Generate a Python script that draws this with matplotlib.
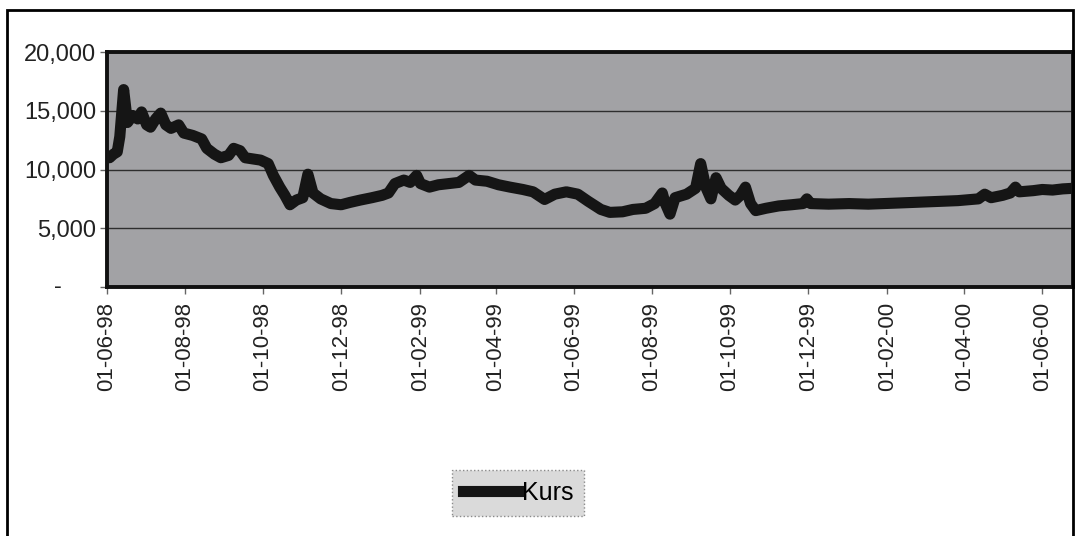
import numpy as np
import pandas as pd
import matplotlib
matplotlib.use('Agg')
import matplotlib.pyplot as plt
import matplotlib.dates as mdates
import matplotlib.transforms as mtransforms
from matplotlib.patches import Rectangle

plt.rcParams['font.family'] = ['Liberation Sans', 'DejaVu Sans']

# exchange rate readings, mid-1998 to mid-2000
dates = ['1998-06-01', '1998-06-03', '1998-06-06', '1998-06-09', '1998-06-11',
         '1998-06-14', '1998-06-17', '1998-06-21', '1998-06-25', '1998-06-28',
         '1998-07-02', '1998-07-05', '1998-07-09', '1998-07-13', '1998-07-17',
         '1998-07-21', '1998-07-27', '1998-07-31', '1998-08-07', '1998-08-14',
         '1998-08-18', '1998-08-24', '1998-08-29', '1998-09-04', '1998-09-08',
         '1998-09-13', '1998-09-17', '1998-09-23', '1998-09-29', '1998-10-05',
         '1998-10-09', '1998-10-14', '1998-10-18', '1998-10-22', '1998-10-27',
         '1998-11-01', '1998-11-05', '1998-11-09', '1998-11-15', '1998-11-23',
         '1998-12-01', '1998-12-08', '1998-12-16', '1998-12-25', '1999-01-02',
         '1999-01-07', '1999-01-12', '1999-01-19', '1999-01-24', '1999-01-29',
         '1999-02-01', '1999-02-08', '1999-02-15', '1999-02-23', '1999-03-03',
         '1999-03-11', '1999-03-16', '1999-03-25', '1999-04-03', '1999-04-12',
         '1999-04-22', '1999-04-30', '1999-05-09', '1999-05-17', '1999-05-26',
         '1999-06-04', '1999-06-12', '1999-06-22', '1999-06-29', '1999-07-09',
         '1999-07-17', '1999-07-27', '1999-08-03', '1999-08-09', '1999-08-11',
         '1999-08-15', '1999-08-19', '1999-08-28', '1999-09-04', '1999-09-08',
         '1999-09-12', '1999-09-16', '1999-09-20', '1999-09-24', '1999-09-30',
         '1999-10-05', '1999-10-09', '1999-10-13', '1999-10-17', '1999-10-21',
         '1999-10-29', '1999-11-08', '1999-11-18', '1999-11-27', '1999-11-30',
         '1999-12-03', '1999-12-17', '2000-01-02', '2000-01-17', '2000-02-10',
         '2000-03-04', '2000-03-27', '2000-04-12', '2000-04-17', '2000-04-22',
         '2000-05-01', '2000-05-07', '2000-05-11', '2000-05-14', '2000-05-25',
         '2000-06-01', '2000-06-09', '2000-06-17', '2000-06-25']
kurs = [11100, 11000, 11300, 11500, 12800,
        16800, 14000, 14600, 14300, 14900,
        13800, 13600, 14300, 14800, 13800,
        13500, 13800, 13100, 12900, 12600,
        11800, 11300, 11000, 11200, 11800,
        11600, 11000, 10900, 10800, 10500,
        9500, 8500, 7800, 7000, 7400,
        7600, 9600, 8000, 7500, 7100,
        7000, 7200, 7400, 7600, 7800,
        8000, 8800, 9100, 8900, 9500,
        8800, 8500, 8700, 8800, 8900,
        9500, 9100, 9000, 8700, 8500,
        8300, 8100, 7450, 7900, 8100,
        7900, 7300, 6600, 6350, 6400,
        6600, 6700, 7100, 8000, 7200,
        6200, 7600, 7900, 8400, 10500,
        8500, 7500, 9300, 8400, 7800,
        7400, 7800, 8500, 7100, 6500,
        6700, 6900, 7000, 7100, 7500,
        7100, 7050, 7100, 7050, 7150,
        7250, 7350, 7500, 7900, 7600,
        7800, 8000, 8500, 8100, 8200,
        8300, 8250, 8350, 8400]
y_ticks = [0, 5000, 10000, 15000, 20000]

x = pd.to_datetime(dates)

fig = plt.figure(figsize=(10.78, 5.36), dpi=100)
ax = fig.add_axes([107 / 1078, 1 - 287 / 536, 966 / 1078, 235 / 536])
ax.set_facecolor('#a2a2a5')

ax.plot(x, kurs, color='#151515', linewidth=8, solid_joinstyle='round',
        label='Kurs', zorder=3)

ax.set_xlim(x[0], x[-1])
ax.set_ylim(0, 20000)
ax.set_yticks(y_ticks)
ax.set_yticklabels(['' if v == 0 else f'{v:,}' for v in y_ticks])
ax.yaxis.grid(True, color='#2e2e2e', linewidth=1)
ax.set_axisbelow(True)

# excel style dash for zero
trans = mtransforms.blended_transform_factory(ax.transAxes, ax.transData)
ax.text(-0.051, 0, '-', transform=trans, ha='center', va='center',
        fontsize=17, color='#222222')

ax.xaxis.set_major_locator(mdates.MonthLocator(bymonth=[2, 4, 6, 8, 10, 12]))
ax.xaxis.set_major_formatter(mdates.DateFormatter('%d-%m-%y'))
for lbl in ax.get_xticklabels():
    lbl.set_rotation(90)

ax.tick_params(axis='x', labelsize=16, colors='#222222', length=5,
               width=1, pad=6, color='#666666')
ax.tick_params(axis='y', labelsize=17, colors='#222222', length=5,
               width=1, pad=3, color='#666666')

for s in ax.spines.values():
    s.set_linewidth(2.8)
    s.set_color('#111111')

leg = fig.legend(loc='center', bbox_to_anchor=(518 / 1078, 1 - 493 / 536),
                 fontsize=18, handlelength=2.3, handletextpad=0.05,
                 borderpad=0.45, fancybox=False, framealpha=1)
leg.get_frame().set_facecolor('#dadada')
leg.get_frame().set_edgecolor('#8a8a8a')
leg.get_frame().set_linestyle(':')

# outer frame of the chart
fig.patches.append(Rectangle((7 / 1078, -0.02), 1066 / 1078, 1.02 - 10 / 536,
                             transform=fig.transFigure, fill=False,
                             edgecolor='black', linewidth=2))

fig.savefig('out.png', dpi=100)
